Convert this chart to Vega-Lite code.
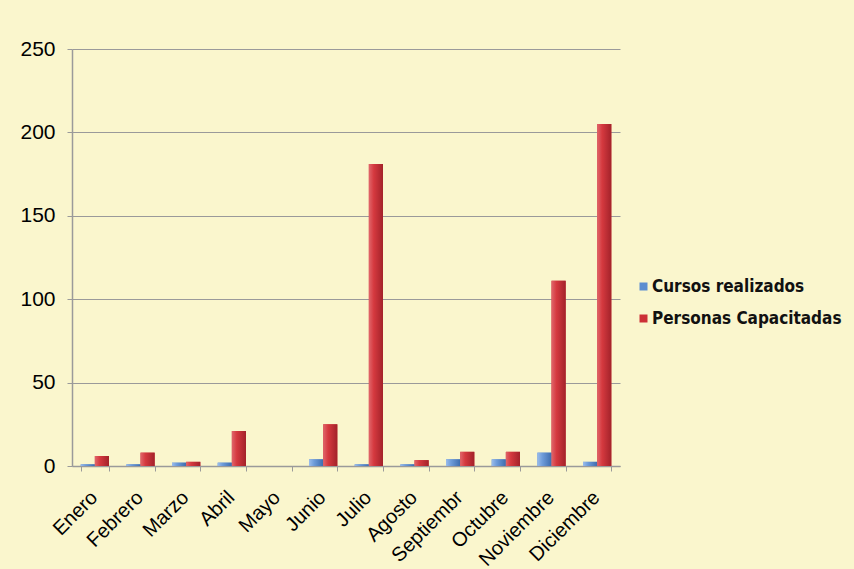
{
  "$schema": "https://vega.github.io/schema/vega-lite/v6.json",
  "width": 548,
  "height": 417,
  "autosize": {"type": "none"},
  "padding": {"left": 72, "top": 49, "right": 234, "bottom": 103},
  "background": "#FAF6CD",
  "config": {
    "view": {"stroke": null},
    "axis": {"labelFont": "Liberation Sans", "labelColor": "#000000", "domainColor": "#9a9a9a", "tickColor": "#9a9a9a", "gridColor": "#9a9a9a", "gridWidth": 1}
  },
  "data": {
    "values": [
      {"mes": "Enero", "serie": "Cursos realizados", "valor": 1},
      {"mes": "Enero", "serie": "Personas Capacitadas", "valor": 6},
      {"mes": "Febrero", "serie": "Cursos realizados", "valor": 1},
      {"mes": "Febrero", "serie": "Personas Capacitadas", "valor": 8},
      {"mes": "Marzo", "serie": "Cursos realizados", "valor": 2},
      {"mes": "Marzo", "serie": "Personas Capacitadas", "valor": 2.5},
      {"mes": "Abril", "serie": "Cursos realizados", "valor": 2},
      {"mes": "Abril", "serie": "Personas Capacitadas", "valor": 21},
      {"mes": "Mayo", "serie": "Cursos realizados", "valor": 0},
      {"mes": "Mayo", "serie": "Personas Capacitadas", "valor": 0},
      {"mes": "Junio", "serie": "Cursos realizados", "valor": 4},
      {"mes": "Junio", "serie": "Personas Capacitadas", "valor": 25},
      {"mes": "Julio", "serie": "Cursos realizados", "valor": 1},
      {"mes": "Julio", "serie": "Personas Capacitadas", "valor": 181},
      {"mes": "Agosto", "serie": "Cursos realizados", "valor": 1},
      {"mes": "Agosto", "serie": "Personas Capacitadas", "valor": 3.5},
      {"mes": "Septiembr", "serie": "Cursos realizados", "valor": 4},
      {"mes": "Septiembr", "serie": "Personas Capacitadas", "valor": 8.5},
      {"mes": "Octubre", "serie": "Cursos realizados", "valor": 4},
      {"mes": "Octubre", "serie": "Personas Capacitadas", "valor": 8.5},
      {"mes": "Noviembre", "serie": "Cursos realizados", "valor": 8},
      {"mes": "Noviembre", "serie": "Personas Capacitadas", "valor": 111},
      {"mes": "Diciembre", "serie": "Cursos realizados", "valor": 2.5},
      {"mes": "Diciembre", "serie": "Personas Capacitadas", "valor": 205}
    ]
  },
  "encoding": {
    "x": {
      "field": "mes", "type": "nominal", "sort": null,
      "scale": {"paddingInner": 0.38, "paddingOuter": 0.19},
      "axis": {"title": null, "labelAngle": -45, "labelAlign": "right", "labelBaseline": "top", "labelFontSize": 20, "labelPadding": 16, "labelOffset": -8, "tickSize": 5, "tickBand": "extent", "domainWidth": 1.5}
    },
    "xOffset": {"field": "serie", "type": "nominal"},
    "y": {
      "field": "valor", "type": "quantitative",
      "scale": {"domain": [0, 250], "nice": false},
      "axis": {"title": null, "values": [0, 50, 100, 150, 200, 250], "labelFontSize": 21, "tickSize": 5, "labelPadding": 12, "domain": true, "domainWidth": 1.5}
    }
  },
  "layer": [
    {
      "mark": {"type": "bar", "stroke": null},
      "encoding": {
        "color": {
          "field": "serie", "type": "nominal",
          "scale": {"domain": ["Cursos realizados", "Personas Capacitadas"], "range": ["#5D8ED0", "#CC3036"]},
          "legend": {
            "title": null, "orient": "none", "legendX": 563, "legendY": 229,
            "symbolType": "square", "symbolSize": 64, "rowPadding": 14, "labelLimit": 300,
            "labelFont": "DejaVu Sans Condensed", "labelFontWeight": "bold", "labelFontSize": 17, "labelColor": "#111111", "labelOffset": 0
          }
        }
      }
    },
    {
      "mark": {"type": "bar", "stroke": null},
      "encoding": {
        "color": {
          "condition": {
            "test": "datum.serie === 'Cursos realizados'",
            "value": {"gradient": "linear", "x1": 0, "x2": 1, "y1": 0, "y2": 0, "stops": [
              {"offset": 0, "color": "#9BBDEB"}, {"offset": 0.35, "color": "#6E9CDA"}, {"offset": 1, "color": "#3E6DAE"}]}
          },
          "value": {"gradient": "linear", "x1": 0, "x2": 1, "y1": 0, "y2": 0, "stops": [
            {"offset": 0, "color": "#E0666B"}, {"offset": 0.35, "color": "#D5393F"}, {"offset": 1, "color": "#A3222A"}]}
        }
      }
    }
  ]
}
